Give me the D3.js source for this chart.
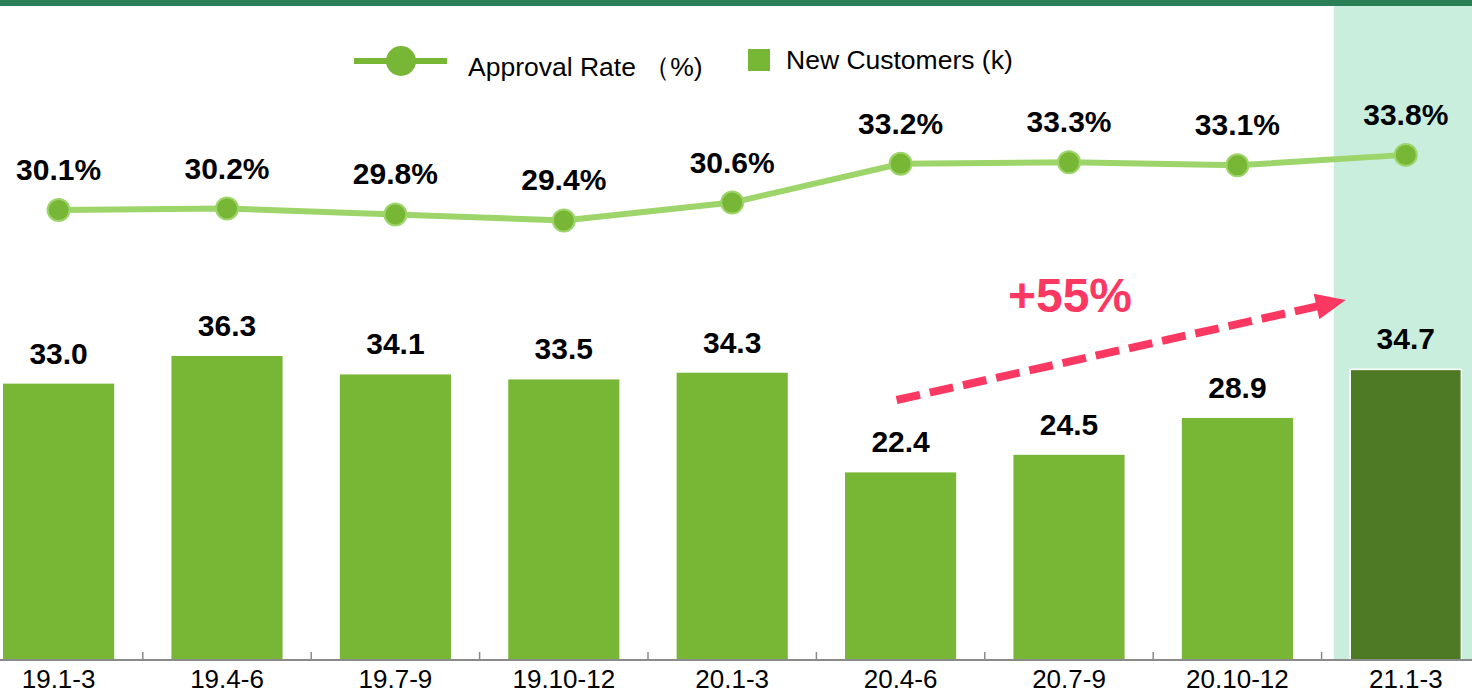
<!DOCTYPE html>
<html><head><meta charset="utf-8">
<script src="https://cdn.jsdelivr.net/npm/d3@7"></script>
<style>html,body{margin:0;padding:0;background:#fff;overflow:hidden}svg{display:block}text{font-family:"Liberation Sans",Arial,sans-serif}</style>
</head><body><svg id="c" width="1472" height="695"></svg>
<script>
const categories = ["19.1-3","19.4-6","19.7-9","19.10-12","20.1-3","20.4-6","20.7-9","20.10-12","21.1-3"];
const newCustomers = [33.0,36.3,34.1,33.5,34.3,22.4,24.5,28.9,34.7];
const approvalRate = [30.1,30.2,29.8,29.4,30.6,33.2,33.3,33.1,33.8];
const legendLabels = ["Approval Rate （%)","New Customers (k)"];
const growthLabel = "+55%";
const highlightIndex = 8;

const W = 1472, H = 695;
const svg = d3.select("#c");
const x = d3.scaleBand().domain(categories).range([-25.6, 1490]).paddingInner(0.34).paddingOuter(0.17);
const yBar = d3.scaleLinear().domain([0, 40]).range([660, 325]);
const yLine = d3.scaleLinear().domain([29, 34]).range([226.4, 151.9]);

// top band
svg.append("rect").attr("x",0).attr("y",0).attr("width",W).attr("height",6).attr("fill","#2a7f56");

// highlight background
const hc = x(categories[highlightIndex]) + x.bandwidth()/2;
svg.append("rect").attr("x",hc-72).attr("y",6).attr("width",W-(hc-72)).attr("height",660-6).attr("fill","#c9eedd");

// bars
svg.append("g").selectAll("rect").data(categories).join("rect")
  .attr("x", d=>x(d)).attr("width", x.bandwidth())
  .attr("y", (d,i)=>yBar(newCustomers[i])).attr("height",(d,i)=>yBar(0)-yBar(newCustomers[i]))
  .attr("fill",(d,i)=> i===highlightIndex ? "#4f7a25" : "#78b736")
  .attr("stroke",(d,i)=> i===highlightIndex ? "#fff" : "none").attr("stroke-width",1.5);

// bar labels
svg.append("g").selectAll("text").data(categories).join("text")
  .attr("x", d=>x(d)+x.bandwidth()/2).attr("y",(d,i)=>yBar(newCustomers[i])-20)
  .attr("text-anchor","middle").attr("font-size",30).attr("font-weight","bold").attr("fill","#000")
  .text((d,i)=>newCustomers[i].toFixed(1));

// axis
const axis = svg.append("g");
axis.append("line").attr("x1",0).attr("x2",W).attr("y1",660).attr("y2",660).attr("stroke","#8a8a8a").attr("stroke-width",2);
axis.selectAll("line.t").data(categories.slice(1)).join("line").attr("class","t")
  .attr("x1",d=>x(d)-x.step()*x.paddingInner()/2).attr("x2",d=>x(d)-x.step()*x.paddingInner()/2)
  .attr("y1",652).attr("y2",660).attr("stroke","#8a8a8a").attr("stroke-width",1.5);
axis.selectAll("text").data(categories).join("text")
  .attr("x",d=>x(d)+x.bandwidth()/2).attr("y",688).attr("text-anchor","middle")
  .attr("font-size",26).attr("fill","#000").text(d=>d);

// line
const cx = (d,i)=>x(categories[i])+x.bandwidth()/2;
const line = d3.line().x((d,i)=>cx(d,i)).y(d=>yLine(d));
svg.append("path").datum(approvalRate).attr("d",line).attr("fill","none").attr("stroke","#9dd56a").attr("stroke-width",6);
svg.append("g").selectAll("circle").data(approvalRate).join("circle")
  .attr("cx",cx).attr("cy",d=>yLine(d)).attr("r",11)
  .attr("fill","#78b736").attr("stroke","#9dd56a").attr("stroke-width",2);
svg.append("g").selectAll("text").data(approvalRate).join("text")
  .attr("x",cx).attr("y",d=>yLine(d)-30).attr("text-anchor","middle")
  .attr("font-size",30).attr("font-weight","bold").attr("fill","#000")
  .text(d=>d.toFixed(1)+"%");

// legend
const lg = svg.append("g");
lg.append("line").attr("x1",354).attr("x2",447).attr("y1",61).attr("y2",61).attr("stroke","#78b736").attr("stroke-width",6);
lg.append("circle").attr("cx",401).attr("cy",61).attr("r",15).attr("fill","#78b736");
lg.append("text").attr("x",468).attr("y",76).attr("font-size",26.5).attr("fill","#000").text(legendLabels[0]);
lg.append("rect").attr("x",748).attr("y",49).attr("width",22).attr("height",22).attr("fill","#78b736");
lg.append("text").attr("x",786).attr("y",69).attr("font-size",26.5).attr("fill","#000").text(legendLabels[1]);

// growth arrow
const pink = "#fb3862";
const x0 = x(categories[5])+x.bandwidth()/2, x1 = hc;
const ax0 = x0 - 4, ay0 = 400, ax1 = x1 - 60, ay1 = 300;
const ang = Math.atan2(ay1-ay0, ax1-ax0);
const shaftEnd = [ax1 - 22*Math.cos(ang), ay1 - 22*Math.sin(ang)];
svg.append("line").attr("x1",ax0).attr("y1",ay0).attr("x2",shaftEnd[0]).attr("y2",shaftEnd[1])
  .attr("stroke",pink).attr("stroke-width",8).attr("stroke-dasharray","24,10");
const hl = 30, hw = 13;
const bx = ax1 - hl*Math.cos(ang), by = ay1 - hl*Math.sin(ang);
const px = -Math.sin(ang), py = Math.cos(ang);
svg.append("path").attr("d",`M${ax1},${ay1}L${bx+px*hw},${by+py*hw}L${bx-px*hw},${by-py*hw}Z`).attr("fill",pink);
svg.append("text").attr("x",1070).attr("y",312).attr("text-anchor","middle").attr("font-size",48)
  .attr("font-weight","bold").attr("fill",pink).text(growthLabel);
</script></body></html>
